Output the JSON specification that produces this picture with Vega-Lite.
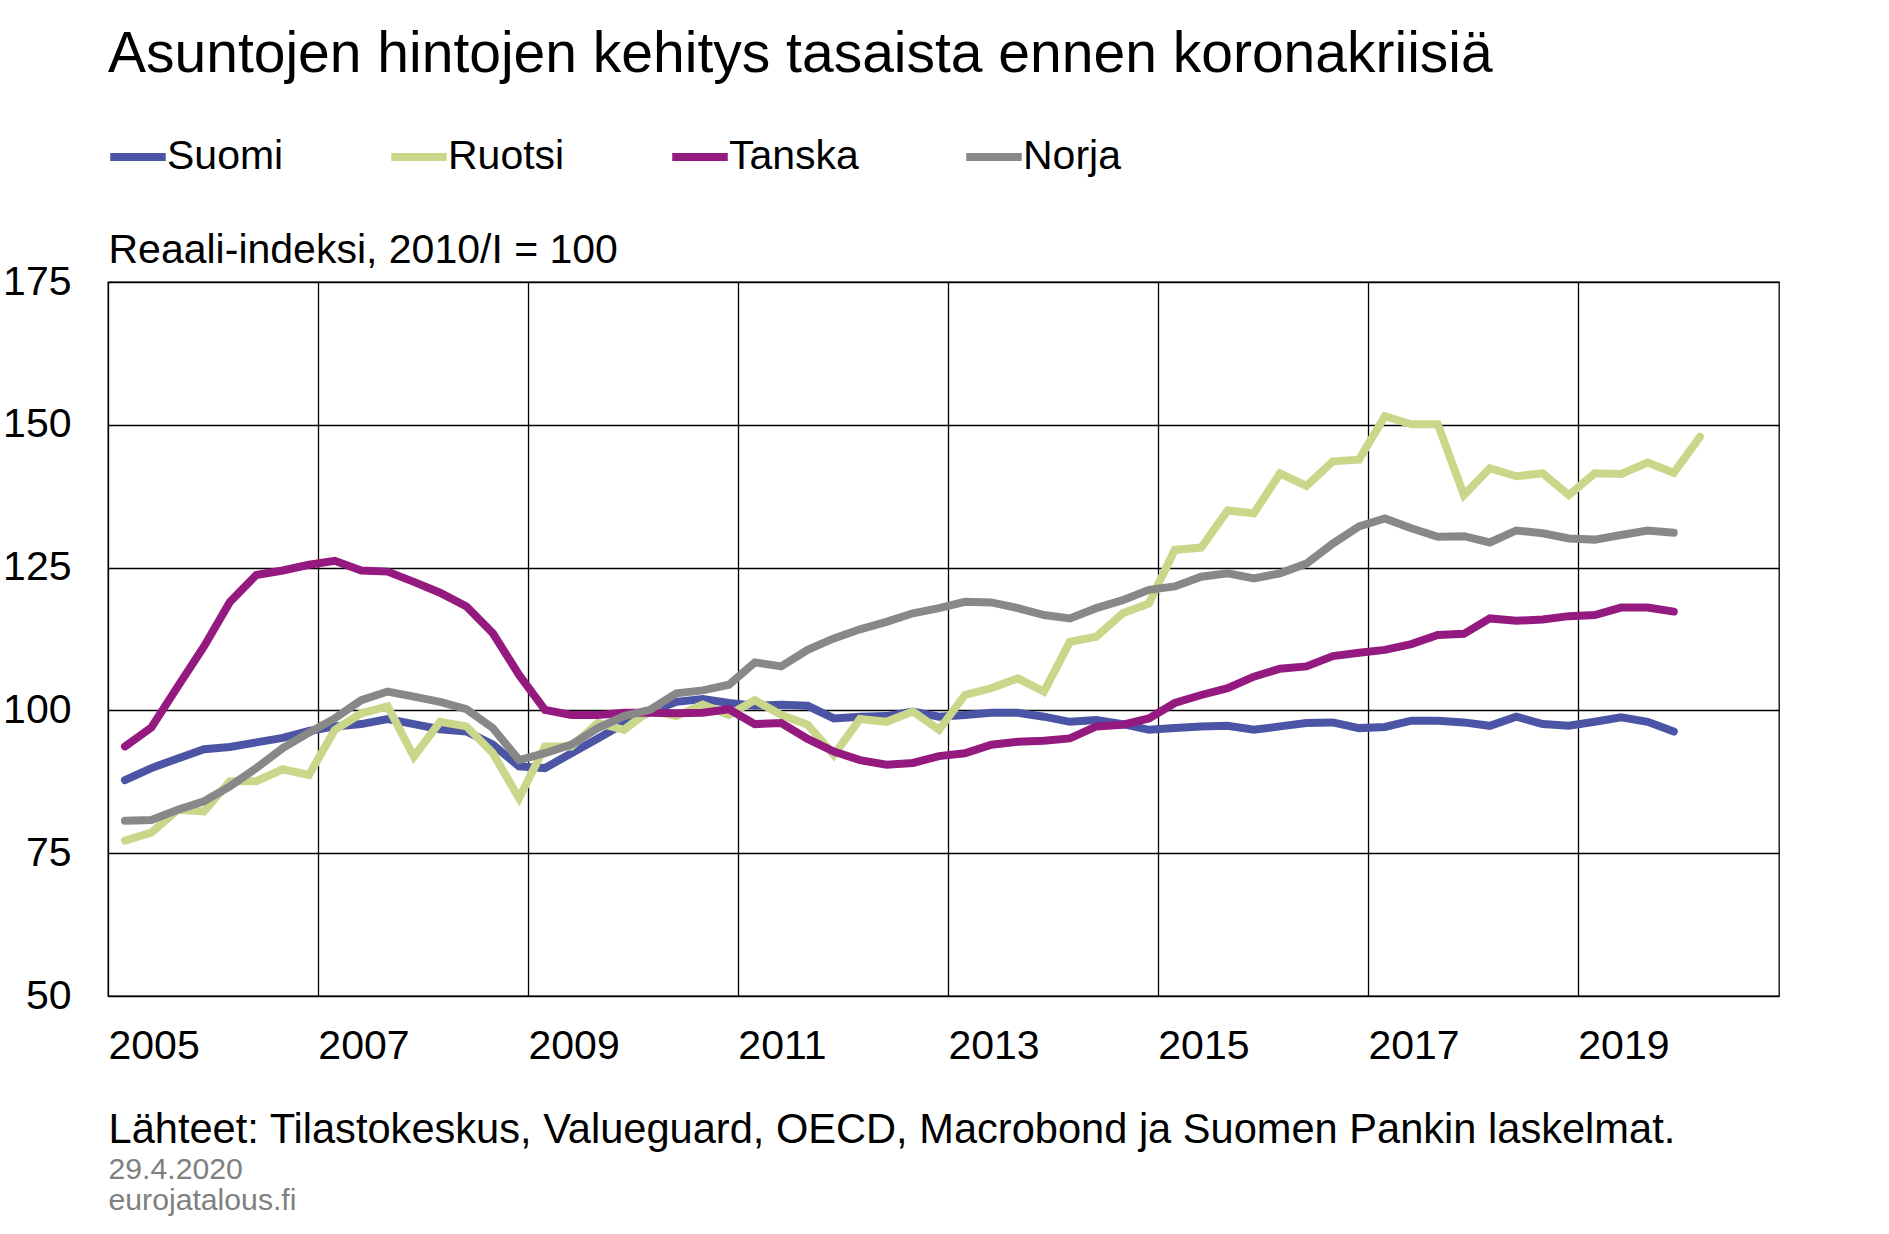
{
  "$schema": "https://vega.github.io/schema/vega-lite/v6.json",
  "autosize": {"type": "none"},
  "padding": {"left": 108, "top": 282, "right": 110, "bottom": 238},
  "width": 1671,
  "height": 714,
  "background": "white",
  "title": {"text": "Asuntojen hintojen kehitys tasaista ennen koronakriisiä", "anchor": "start", "frame": "group", "fontSize": 57, "fontWeight": "normal", "font": "Liberation Sans", "color": "black", "offset": 41},
  "config": {
    "font": "Liberation Sans",
    "view": {"stroke": "black", "strokeWidth": 1.3}
  },
  "data": {"values": [
    {"d": "2005-03-01", "Suomi": 87.8, "Ruotsi": 77.2, "Tanska": 93.7, "Norja": 80.7},
    {"d": "2005-06-01", "Suomi": 89.9, "Ruotsi": 78.6, "Tanska": 97.0, "Norja": 80.8},
    {"d": "2005-09-01", "Suomi": 91.6, "Ruotsi": 82.6, "Tanska": 104.2, "Norja": 82.6},
    {"d": "2005-12-01", "Suomi": 93.2, "Ruotsi": 82.3, "Tanska": 111.2, "Norja": 84.1},
    {"d": "2006-03-01", "Suomi": 93.6, "Ruotsi": 87.6, "Tanska": 119.0, "Norja": 86.7},
    {"d": "2006-06-01", "Suomi": 94.4, "Ruotsi": 87.6, "Tanska": 123.7, "Norja": 89.9},
    {"d": "2006-09-01", "Suomi": 95.2, "Ruotsi": 89.7, "Tanska": 124.5, "Norja": 93.4},
    {"d": "2006-12-01", "Suomi": 96.4, "Ruotsi": 88.7, "Tanska": 125.5, "Norja": 96.1},
    {"d": "2007-03-01", "Suomi": 97.2, "Ruotsi": 96.6, "Tanska": 126.2, "Norja": 98.6},
    {"d": "2007-06-01", "Suomi": 97.6, "Ruotsi": 99.5, "Tanska": 124.5, "Norja": 101.8},
    {"d": "2007-09-01", "Suomi": 98.5, "Ruotsi": 100.7, "Tanska": 124.3, "Norja": 103.3},
    {"d": "2007-12-01", "Suomi": 97.6, "Ruotsi": 91.9, "Tanska": 122.5, "Norja": 102.4},
    {"d": "2008-03-01", "Suomi": 96.7, "Ruotsi": 98.0, "Tanska": 120.6, "Norja": 101.5},
    {"d": "2008-06-01", "Suomi": 96.3, "Ruotsi": 97.2, "Tanska": 118.2, "Norja": 100.2},
    {"d": "2008-09-01", "Suomi": 94.0, "Ruotsi": 92.5, "Tanska": 113.5, "Norja": 96.9},
    {"d": "2008-12-01", "Suomi": 90.2, "Ruotsi": 84.6, "Tanska": 106.2, "Norja": 91.3},
    {"d": "2009-03-01", "Suomi": 89.9, "Ruotsi": 93.7, "Tanska": 100.1, "Norja": 92.5},
    {"d": "2009-06-01", "Suomi": 92.5, "Ruotsi": 93.7, "Tanska": 99.2, "Norja": 94.0},
    {"d": "2009-09-01", "Suomi": 95.1, "Ruotsi": 97.8, "Tanska": 99.2, "Norja": 96.9},
    {"d": "2009-12-01", "Suomi": 97.7, "Ruotsi": 96.6, "Tanska": 99.6, "Norja": 99.0},
    {"d": "2010-03-01", "Suomi": 99.7, "Ruotsi": 100.0, "Tanska": 99.6, "Norja": 100.1},
    {"d": "2010-06-01", "Suomi": 101.5, "Ruotsi": 99.0, "Tanska": 99.5, "Norja": 103.0},
    {"d": "2010-09-01", "Suomi": 102.0, "Ruotsi": 101.0, "Tanska": 99.6, "Norja": 103.5},
    {"d": "2010-12-01", "Suomi": 101.3, "Ruotsi": 99.2, "Tanska": 100.2, "Norja": 104.5},
    {"d": "2011-03-01", "Suomi": 100.8, "Ruotsi": 101.8, "Tanska": 97.6, "Norja": 108.4},
    {"d": "2011-06-01", "Suomi": 101.0, "Ruotsi": 99.2, "Tanska": 97.8, "Norja": 107.7},
    {"d": "2011-09-01", "Suomi": 100.8, "Ruotsi": 97.5, "Tanska": 95.0, "Norja": 110.6},
    {"d": "2011-12-01", "Suomi": 98.6, "Ruotsi": 92.2, "Tanska": 92.8, "Norja": 112.6},
    {"d": "2012-03-01", "Suomi": 98.9, "Ruotsi": 98.5, "Tanska": 91.3, "Norja": 114.2},
    {"d": "2012-06-01", "Suomi": 99.0, "Ruotsi": 98.0, "Tanska": 90.5, "Norja": 115.5},
    {"d": "2012-09-01", "Suomi": 99.8, "Ruotsi": 99.8, "Tanska": 90.8, "Norja": 117.0},
    {"d": "2012-12-01", "Suomi": 98.9, "Ruotsi": 96.6, "Tanska": 92.0, "Norja": 117.9},
    {"d": "2013-03-01", "Suomi": 99.2, "Ruotsi": 102.7, "Tanska": 92.5, "Norja": 119.0},
    {"d": "2013-06-01", "Suomi": 99.6, "Ruotsi": 103.9, "Tanska": 94.0, "Norja": 118.9},
    {"d": "2013-09-01", "Suomi": 99.6, "Ruotsi": 105.6, "Tanska": 94.5, "Norja": 117.9},
    {"d": "2013-12-01", "Suomi": 98.9, "Ruotsi": 103.3, "Tanska": 94.7, "Norja": 116.7},
    {"d": "2014-03-01", "Suomi": 98.0, "Ruotsi": 112.0, "Tanska": 95.1, "Norja": 116.1},
    {"d": "2014-06-01", "Suomi": 98.3, "Ruotsi": 112.9, "Tanska": 97.2, "Norja": 117.9},
    {"d": "2014-09-01", "Suomi": 97.6, "Ruotsi": 117.0, "Tanska": 97.5, "Norja": 119.3},
    {"d": "2014-12-01", "Suomi": 96.6, "Ruotsi": 118.7, "Tanska": 98.6, "Norja": 121.1},
    {"d": "2015-03-01", "Suomi": 96.9, "Ruotsi": 128.1, "Tanska": 101.3, "Norja": 121.7},
    {"d": "2015-06-01", "Suomi": 97.2, "Ruotsi": 128.5, "Tanska": 102.7, "Norja": 123.4},
    {"d": "2015-09-01", "Suomi": 97.3, "Ruotsi": 135.0, "Tanska": 103.9, "Norja": 124.0},
    {"d": "2015-12-01", "Suomi": 96.6, "Ruotsi": 134.5, "Tanska": 105.9, "Norja": 123.1},
    {"d": "2016-03-01", "Suomi": 97.2, "Ruotsi": 141.5, "Tanska": 107.3, "Norja": 124.0},
    {"d": "2016-06-01", "Suomi": 97.8, "Ruotsi": 139.3, "Tanska": 107.7, "Norja": 125.7},
    {"d": "2016-09-01", "Suomi": 97.9, "Ruotsi": 143.6, "Tanska": 109.5, "Norja": 129.2},
    {"d": "2016-12-01", "Suomi": 96.9, "Ruotsi": 143.9, "Tanska": 110.1, "Norja": 132.2},
    {"d": "2017-03-01", "Suomi": 97.1, "Ruotsi": 151.5, "Tanska": 110.6, "Norja": 133.6},
    {"d": "2017-06-01", "Suomi": 98.2, "Ruotsi": 150.1, "Tanska": 111.6, "Norja": 131.9},
    {"d": "2017-09-01", "Suomi": 98.2, "Ruotsi": 150.1, "Tanska": 113.2, "Norja": 130.4},
    {"d": "2017-12-01", "Suomi": 97.9, "Ruotsi": 137.7, "Tanska": 113.4, "Norja": 130.5},
    {"d": "2018-03-01", "Suomi": 97.3, "Ruotsi": 142.4, "Tanska": 116.1, "Norja": 129.4},
    {"d": "2018-06-01", "Suomi": 98.9, "Ruotsi": 141.0, "Tanska": 115.7, "Norja": 131.5},
    {"d": "2018-09-01", "Suomi": 97.6, "Ruotsi": 141.5, "Tanska": 115.9, "Norja": 131.0},
    {"d": "2018-12-01", "Suomi": 97.3, "Ruotsi": 137.7, "Tanska": 116.5, "Norja": 130.1},
    {"d": "2019-03-01", "Suomi": 98.0, "Ruotsi": 141.5, "Tanska": 116.7, "Norja": 129.9},
    {"d": "2019-06-01", "Suomi": 98.8, "Ruotsi": 141.4, "Tanska": 118.0, "Norja": 130.7},
    {"d": "2019-09-01", "Suomi": 98.0, "Ruotsi": 143.4, "Tanska": 118.0, "Norja": 131.5},
    {"d": "2019-12-01", "Suomi": 96.3, "Ruotsi": 141.6, "Tanska": 117.3, "Norja": 131.1},
    {"d": "2020-03-01", "Ruotsi": 147.9}
  ]},
  "transform": [
    {"fold": ["Suomi", "Ruotsi", "Tanska", "Norja"], "as": ["maa", "arvo"]},
    {"filter": "isValid(datum.arvo)"}
  ],
  "layer": [
    {
      "mark": {"type": "line", "strokeWidth": 8, "strokeCap": "round"},
      "encoding": {
        "x": {"field": "d", "type": "temporal",
          "scale": {"type": "utc", "domain": [{"year": 2005, "month": 1, "date": 1, "utc": true}, {"year": 2020, "month": 12, "date": 1, "utc": true}]},
          "axis": {
            "values": [{"year": 2005, "month": 1, "date": 1, "utc": true}, {"year": 2007, "month": 1, "date": 1, "utc": true}, {"year": 2009, "month": 1, "date": 1, "utc": true}, {"year": 2011, "month": 1, "date": 1, "utc": true}, {"year": 2013, "month": 1, "date": 1, "utc": true}, {"year": 2015, "month": 1, "date": 1, "utc": true}, {"year": 2017, "month": 1, "date": 1, "utc": true}, {"year": 2019, "month": 1, "date": 1, "utc": true}],
            "format": "%Y",
            "grid": true, "gridColor": "black", "gridWidth": 1.3, "gridOpacity": 1,
            "ticks": false, "domain": false,
            "labelFontSize": 41, "labelColor": "black", "labelAlign": "left", "labelBaseline": "top",
            "labelPadding": 30, "labelFlush": false, "labelOverlap": false,
            "title": "Lähteet: Tilastokeskus, Valueguard, OECD, Macrobond ja Suomen Pankin laskelmat.",
            "titleFontSize": 41.6, "titleFontWeight": "normal", "titleColor": "black",
            "titleAnchor": "start", "titleAlign": "left", "titleBaseline": "alphabetic",
            "titleX": 0, "titleY": 146, "titleLimit": 2000
          }
        },
        "y": {"field": "arvo", "type": "quantitative",
          "scale": {"domain": [50, 175], "nice": false, "zero": false},
          "axis": {
            "values": [50, 75, 100, 125, 150, 175],
            "grid": true, "gridColor": "black", "gridWidth": 1.3, "gridOpacity": 1,
            "ticks": false, "domain": false,
            "labelFontSize": 41, "labelColor": "black", "labelPadding": 37, "labelBaseline": "middle",
            "title": "Reaali-indeksi, 2010/I = 100",
            "titleFontSize": 41, "titleFontWeight": "normal", "titleColor": "black",
            "titleAngle": 0, "titleAnchor": "start", "titleAlign": "left", "titleBaseline": "alphabetic",
            "titleX": 0, "titleY": -20, "titleLimit": 2000
          }
        },
        "color": {"field": "maa", "type": "nominal",
          "scale": {"domain": ["Suomi", "Ruotsi", "Tanska", "Norja"], "range": ["#4C55A5", "#CAD78B", "#951A80", "#888888"]},
          "legend": {
            "title": null, "orient": "none", "direction": "horizontal", "legendX": -2, "legendY": -157,
            "symbolType": "stroke", "symbolStrokeWidth": 8, "symbolSize": 3080, "symbolOpacity": 1,
            "labelFontSize": 41, "labelColor": "black", "labelOffset": -3, "labelLimit": 400,
            "columnPadding": 91, "padding": 0
          }
        }
      }
    },
    {
      "mark": {"type": "line", "opacity": 0},
      "encoding": {
        "x": {"field": "d", "type": "temporal"},
        "y": {"field": "arvo", "type": "quantitative",
          "axis": {
            "orient": "right", "labels": false, "ticks": false, "domain": false, "grid": false,
            "title": ["29.4.2020", "eurojatalous.fi"],
            "titleFontSize": 30.2, "titleFontWeight": "normal", "titleColor": "#808080",
            "titleAngle": 0, "titleAnchor": "start", "titleAlign": "left", "titleBaseline": "alphabetic",
            "titleLineHeight": 31, "titleX": -1671, "titleY": 896, "titleLimit": 2000
          }
        },
        "detail": {"field": "maa"}
      }
    }
  ],
  "resolve": {"axis": {"y": "independent"}}
}
